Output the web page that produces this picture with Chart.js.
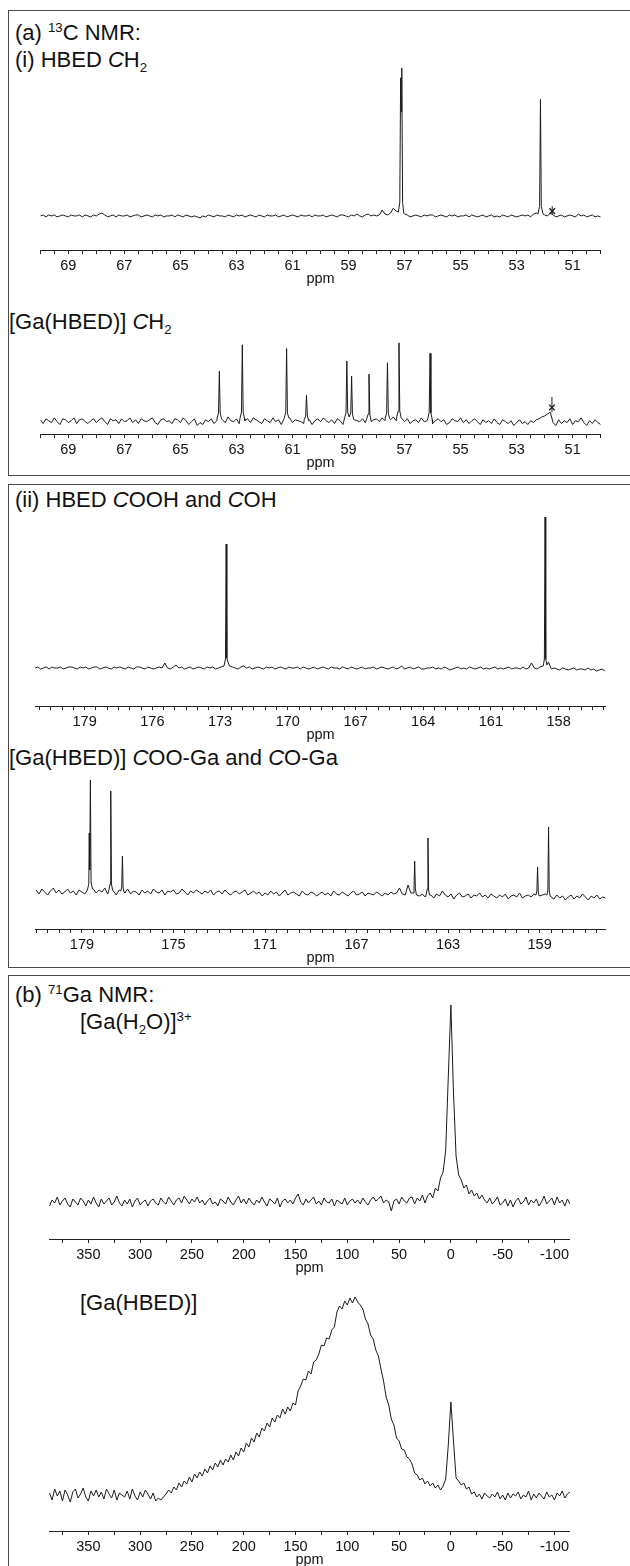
<!DOCTYPE html>
<html>
<head>
<meta charset="utf-8">
<title>13C and 71Ga NMR spectra</title>
<script src="https://cdn.jsdelivr.net/npm/chart.js@4.4.0/dist/chart.umd.min.js"></script>
<style>
  body { margin: 0; width: 630px; height: 1566px; background: #fff; position: relative; overflow: hidden;
         font-family: "Liberation Sans", Arial, Helvetica, sans-serif; color: #111; }
  .box { position: absolute; left: 8px; width: 640px; border: 1.5px solid #4a4a4a; box-sizing: border-box; }
  .lbl { position: absolute; font-size: 22px; line-height: 1; white-space: nowrap; }
  .lbl sup, .lbl sub { font-size: 0.6em; line-height: 0; }
  canvas { position: absolute; }
</style>
</head>
<body>
<div class="box" style="top:10px;height:466px"></div>
<div class="box" style="top:484px;height:484px"></div>
<div class="box" style="top:975px;height:640px"></div>

<div class="lbl" style="left:15px;top:22px">(a) <sup>13</sup>C NMR:</div>
<div class="lbl" style="left:15px;top:49px">(i) HBED <i>C</i>H<sub>2</sub></div>
<div class="lbl" style="left:9px;top:311px">[Ga(HBED)] <i>C</i>H<sub>2</sub></div>
<div class="lbl" style="left:15px;top:489px">(ii) HBED <i>C</i>OOH and <i>C</i>OH</div>
<div class="lbl" style="left:9px;top:747px">[Ga(HBED)] <i>C</i>OO-Ga and <i>C</i>O-Ga</div>
<div class="lbl" style="left:15px;top:984px">(b) <sup>71</sup>Ga NMR:</div>
<div class="lbl" style="left:80px;top:1011px">[Ga(H<sub>2</sub>O)]<sup>3+</sup></div>
<div class="lbl" style="left:80px;top:1292px">[Ga(HBED)]</div>

<canvas id="c1"></canvas>
<canvas id="c2"></canvas>
<canvas id="c3"></canvas>
<canvas id="c4"></canvas>
<canvas id="c5"></canvas>
<canvas id="c6"></canvas>

<script>
// ---- tick labels (ppm) ----
const ch2TickLabels = [69, 67, 65, 63, 61, 59, 57, 55, 53, 51];
const coTickLabelsTop = [179, 176, 173, 170, 167, 164, 161, 158];
const coTickLabelsBottom = [179, 175, 171, 167, 163, 159];
const gaTickLabels = [350, 300, 250, 200, 150, 100, 50, 0, -50, -100];

// axis ranges: [left ppm, right ppm, minor tick step]
const ch2Axis = [70, 50, 0.5];
const coAxisTop = [181.2, 155.9, 0.5];
const coAxisBottom = [181.05, 156.1, 0.5];
const gaAxis = [388, -115, 25];

// baseline sampling: [first ppm, step]
const ch2Grid = [70, 0.1];
const coGridTop = [181.2, 0.125];
const coGridBottom = [181, 0.125];
const gaGrid = [387.5, 2.5];

// (i) HBED CH2 - intensities (px above baseline)
const hbedCH2Noise = [
  0,1,-1,1,0,1,-1,0,1,0,-1,1,0,0,1,-1,1,0,-1,1,
  0,2,3,1,-1,0,1,-1,1,0,0,1,-1,0,1,1,-1,0,1,0,
  -1,1,0,1,-1,0,0,1,-1,1,0,-1,1,0,-1,0,-1,-2,0,-1,
  1,0,-1,1,0,0,-1,1,0,-1,1,0,1,-1,0,1,0,-1,1,0,
  -1,1,0,0,1,-1,0,1,-1,0,1,0,-1,1,0,0,1,-1,1,0,
  0,1,-1,0,1,0,-1,1,1,0,-1,1,0,2,0,-1,1,2,0,1,
  0,1,6,2,1,3,8,5,0,0,2,1,-1,0,1,0,-1,1,0,1,
  1,-1,0,1,0,-1,1,0,1,-1,0,0,1,-1,1,0,-1,0,1,-1,
  0,1,-1,0,-1,1,0,-1,1,0,-1,0,1,0,1,-1,2,3,0,0,
  1,0,3,1,-1,0,1,-1,0,1,0,-1,2,0,1,-1,0,1,-1,0,-1
];
const hbedCH2Peaks = [
  [[57.22,4],[57.17,14],[57.14,142],[57.12,107],[57.10,152],[57.07,14],[57.03,3]],
  [[52.24,2],[52.18,10],[52.15,120],[52.12,10],[52.06,2]]
];
const hbedCH2Artefact = [51.73, 5, 2, 10];

// [Ga(HBED)] CH2
const gaHbedCH2Noise = [
  1,-3,2,0,-2,3,-1,-4,2,1,-2,0,3,-3,1,2,-1,-3,0,2,
  -2,1,3,-1,-4,2,0,1,-3,2,-1,0,3,-2,1,-3,2,0,-1,1,
  3,-2,-4,1,2,-1,0,-3,2,1,-2,3,0,-4,-1,2,-5,-2,-4,1,
  -1,2,-3,0,3,1,-2,4,0,-1,2,-3,1,0,2,-2,3,1,-1,-3,
  2,0,-2,3,-1,1,-4,2,0,3,-2,1,0,-1,-3,-2,1,-4,0,2,
  -1,3,0,-2,1,-3,2,0,-4,1,-2,-3,1,0,-1,2,-2,0,-3,1,
  2,-1,3,0,-2,1,4,0,2,3,-1,2,-3,0,1,-2,3,-1,0,1,
  -3,0,2,-1,1,-4,-2,2,0,-1,3,-2,1,-3,0,2,-1,-4,1,-2,
  0,-3,2,-2,-4,1,-1,-3,0,-5,-2,1,-3,-1,-4,0,-2,1,2,4,
  5,7,9,-2,-5,1,-3,0,-2,2,-4,0,-1,3,-2,-5,0,-3,1,-2,-4
];
const gaHbedCH2Peaks = [
  [[63.69,3],[63.64,8],[63.61,52],[63.58,8],[63.53,2]],
  [[62.87,3],[62.82,9],[62.79,80],[62.76,9],[62.71,2]],
  [[61.29,2],[61.24,9],[61.21,76],[61.18,8],[61.13,3]],
  [[60.58,1],[60.53,5],[60.50,27],[60.47,5],[60.42,0]],
  [[59.14,3],[59.09,8],[59.06,63],[59.03,9],[58.98,4]],
  [[58.97,4],[58.92,8],[58.89,47],[58.86,7],[58.81,1]],
  [[58.35,2],[58.30,7],[58.27,49],[58.24,7],[58.19,-1]],
  [[57.69,3],[57.64,8],[57.61,61],[57.58,8],[57.53,2]],
  [[57.28,4],[57.23,10],[57.20,82],[57.17,10],[57.12,3]],
  [[56.17,2],[56.12,9],[56.09,71],[56.06,8],[56.01,1]]
];
const gaHbedCH2Artefact = [51.74, 14, 9, 25];

// (ii) HBED COOH and COH
const hbedCOOHNoise = [
  0,1,-1,0,1,-1,1,0,0,1,-1,0,1,1,0,-1,1,0,1,-1,
  0,1,1,-1,0,1,0,-1,1,0,1,0,-1,1,0,-1,1,1,0,-1,
  1,0,-1,0,1,0,5,0,-1,1,3,0,1,-1,0,1,-1,0,1,0,
  -1,1,0,1,-1,0,1,2,0,2,1,0,-1,1,2,0,1,-1,0,1,
  0,-1,1,0,1,-1,0,1,0,-1,1,0,0,1,-1,1,0,-1,0,1,
  -1,0,1,0,-1,1,0,0,-1,1,0,-1,1,0,-1,0,1,-1,0,0,
  1,-1,0,1,0,-1,0,1,-1,0,2,-1,0,1,-1,0,1,-1,-1,0,
  0,1,-1,0,-1,1,0,-2,-1,0,1,-1,0,-1,1,0,-1,0,1,-1,
  0,-1,0,1,-1,0,-1,0,1,-1,0,0,-1,1,-1,0,5,0,-1,1,
  2,0,6,-1,0,-1,-2,0,-1,-2,-1,0,-2,-1,-1,-2,0,-2,-1,-3,-2,-1,-3
];
const hbedCOOHPeaks = [
  [[172.80,2],[172.76,9],[172.73,124],[172.70,10],[172.65,6],[172.58,2]],
  [[158.68,2],[158.63,9],[158.60,151],[158.57,9],[158.52,3]]
];

// [Ga(HBED)] COO-Ga and CO-Ga
const gaHbedCOONoise = [
  2,-2,3,0,-3,1,4,-1,2,-2,0,3,-1,1,-3,2,0,-2,0,0,
  3,-1,2,0,4,-2,0,1,-3,2,0,-1,3,-2,1,0,-3,2,-1,1,
  -2,3,0,-1,2,-3,1,0,2,-2,-1,3,0,-3,1,-1,2,0,-2,1,
  -1,2,-3,0,1,-2,2,-1,-3,0,1,-2,0,2,-3,-1,1,-2,0,-4,
  -1,-3,1,-2,0,-4,-1,2,-3,-1,0,-2,-4,1,-2,-3,0,-1,-4,-2,
  0,-3,-1,-4,1,-2,-3,0,-2,-4,-1,1,-3,-2,0,-4,-1,-2,-3,0,
  -2,-4,-1,-3,0,-2,-1,4,-2,-3,7,-1,0,-3,-4,-2,-5,0,-3,-6,
  -2,-4,1,-3,-5,-2,-7,-3,-1,-5,-4,-2,-6,-3,-4,-1,-5,-3,-6,-2,
  -4,-6,-3,-5,-2,-7,-4,-3,-5,-1,-6,-4,-3,-5,-2,0,-4,-3,-2,0,
  -5,-7,-3,-6,-4,-8,-5,-3,-7,-4,-6,-2,-5,-8,-4,-6,-3,-7,-5,-6
];
const gaHbedCOOPeaks = [
  [[178.76,2],[178.70,8],[178.68,59],[178.66,22],[178.63,112],[178.60,10],[178.54,3]],
  [[177.82,2],[177.77,8],[177.74,101],[177.71,8],[177.66,2]],
  [[177.30,1],[177.26,5],[177.23,36],[177.20,4],[177.16,0]],
  [[164.53,-1],[164.49,3],[164.46,31],[164.43,3],[164.39,-2]],
  [[163.95,-2],[163.91,3],[163.88,54],[163.85,2],[163.81,-3]],
  [[159.16,-3],[159.12,1],[159.09,25],[159.06,0],[159.02,-4]],
  [[158.68,-3],[158.64,2],[158.61,65],[158.58,1],[158.54,-4]]
];

// (b) 71Ga [Ga(H2O)]3+  (387.5 -> -115 ppm)
const gaAquaTrace = [
  -4,2,-1,5,-3,1,4,-2,-5,3,0,-3,4,1,-4,2,-2,5,-1,-5,
  3,-2,1,4,-3,0,6,-1,-4,2,-2,3,-5,1,4,-3,0,2,-4,1,
  3,-1,-3,4,0,-2,5,1,-3,2,4,-1,6,2,-2,3,0,5,-1,2,
  -3,1,4,-2,0,-4,3,1,-2,5,0,-3,2,6,-1,3,-2,4,0,-3,
  2,-1,5,0,-4,3,1,-2,4,-5,1,3,-1,2,-2,4,8,0,-3,3,
  -1,2,5,-2,1,-3,4,0,-1,3,-4,2,0,-2,4,-3,1,3,-1,2,
  -2,4,0,-3,2,5,1,3,6,-1,2,0,-9,1,3,-2,5,1,-1,4,
  5,-2,4,1,7,-1,6,9,4,14,11,24,30,52,125,197,110,46,27,22,
  14,17,8,12,6,9,3,7,2,-1,4,-2,1,5,-3,-1,3,-4,2,-5,
  1,4,-2,0,5,-3,2,-1,3,-4,0,6,-2,1,4,-3,5,-1,2,-4,3,-2
];

// [Ga(HBED)]
const gaHbedTrace = [
  2,-5,6,-1,4,-6,5,0,-7,3,6,-3,1,7,-2,-6,4,-1,5,-2,
  3,-4,6,1,-3,5,-5,2,0,-2,4,-4,6,-1,-5,3,-2,5,1,-4,
  2,-6,-3,-5,-2,1,5,2,8,5,12,8,14,11,18,13,21,17,23,19,
  26,22,29,25,32,28,35,30,36,33,40,35,43,39,47,43,52,48,57,53,
  62,58,67,64,72,68,77,73,80,77,86,81,88,84,92,90,104,109,116,115,
  124,121,133,135,141,150,149,157,156,165,168,183,189,186,194,190,197,192,198,193,
  190,186,176,171,160,156,145,139,126,114,98,90,76,70,57,54,46,45,38,36,
  31,22,20,15,17,11,14,9,12,7,10,5,9,16,50,93,54,17,14,10,
  12,6,8,1,3,-2,1,-4,2,-1,-3,1,-2,3,-4,0,-5,2,-3,1,
  -1,3,-4,0,-2,4,-5,1,-3,2,-1,-4,3,-2,0,-5,2,-1,4,-3,1,3
];

// ---- page placement of each plot (px) ----
const AXIS_H = 38;
const places = {
  c1: { left: 35, width: 571, top: 55,   axisY: 250,  baseY: 215 },
  c2: { left: 35, width: 571, top: 330,  axisY: 434,  baseY: 420 },
  c3: { left: 35, width: 571, top: 510,  axisY: 706,  baseY: 668 },
  c4: { left: 35, width: 571, top: 772,  axisY: 929,  baseY: 892 },
  c5: { left: 49, width: 521, top: 995,  axisY: 1239, baseY: 1202 },
  c6: { left: 49, width: 521, top: 1290, axisY: 1531, baseY: 1495 }
};

Chart.defaults.font.family = '"Liberation Sans", Arial, Helvetica, sans-serif';
Chart.defaults.color = '#111';

// baseline samples + narrow peak outlines, merged in ppm order
function buildTrace(grid, values, peaks) {
  const [start, step] = grid;
  const pts = [];
  values.forEach((v, i) => {
    const x = +(start - i * step).toFixed(4);
    const inside = peaks.some(g => x <= g[0][0] && x >= g[g.length - 1][0]);
    if (!inside) pts.push({ x, y: v });
  });
  peaks.forEach(g => g.forEach(p => pts.push({ x: p[0], y: p[1] })));
  pts.sort((a, b) => b.x - a.x);
  return pts;
}

function minorTicks(lo, hi, step) {
  const out = [];
  for (let k = Math.ceil(lo / step - 1e-9); k * step <= hi + 1e-9; k++) {
    out.push({ value: Math.round(k * step * 1000) / 1000 });
  }
  return out;
}

function makeSpectrum(id, axis, labels, trace, artefact) {
  const place = places[id];
  const cv = document.getElementById(id);
  cv.width = place.width;
  cv.height = place.axisY - place.top + AXIS_H;
  cv.style.left = place.left + 'px';
  cv.style.top = place.top + 'px';
  const [hi, lo, minor] = axis;

  const datasets = [{
    data: trace, borderColor: '#1b1b1b', borderWidth: 1, pointRadius: 0, tension: 0
  }];
  if (artefact) {
    const [p, yc, y0, y1] = artefact;
    datasets.push({
      data: [{ x: p, y: yc }], showLine: false, pointStyle: 'crossRot', pointRadius: 4,
      pointBorderColor: '#1b1b1b', pointBorderWidth: 1.3, borderColor: '#1b1b1b'
    });
    datasets.push({
      data: [{ x: p, y: y0 }, { x: p, y: y1 }], borderColor: '#1b1b1b', borderWidth: 1, pointRadius: 0
    });
  }

  new Chart(cv, {
    type: 'line',
    data: { datasets },
    options: {
      responsive: false,
      animation: false,
      events: [],
      layout: { padding: 0 },
      plugins: { legend: { display: false }, tooltip: { enabled: false } },
      scales: {
        x: {
          type: 'linear', reverse: true, min: lo, max: hi,
          afterFit: s => { s.height = AXIS_H; },
          afterBuildTicks: s => { s.ticks = minorTicks(lo, hi, minor); },
          border: { display: true, color: '#222', width: 1 },
          grid: { drawOnChartArea: false, drawTicks: true, tickLength: 4, color: '#222', lineWidth: 1 },
          ticks: {
            autoSkip: false, maxRotation: 0, minRotation: 0, padding: 3, color: '#111',
            font: { size: 14.5 },
            callback: v => {
              const l = labels.find(t => Math.abs(t - v) < 1e-6);
              return l === undefined ? '' : String(l);
            }
          },
          title: { display: true, text: 'ppm', color: '#111', font: { size: 14.5 }, padding: { top: 0, bottom: 0 } }
        },
        y: { display: false, min: place.baseY - place.axisY, max: place.baseY - place.top }
      }
    }
  });
}

makeSpectrum('c1', ch2Axis, ch2TickLabels, buildTrace(ch2Grid, hbedCH2Noise, hbedCH2Peaks), hbedCH2Artefact);
makeSpectrum('c2', ch2Axis, ch2TickLabels, buildTrace(ch2Grid, gaHbedCH2Noise, gaHbedCH2Peaks), gaHbedCH2Artefact);
makeSpectrum('c3', coAxisTop, coTickLabelsTop, buildTrace(coGridTop, hbedCOOHNoise, hbedCOOHPeaks));
makeSpectrum('c4', coAxisBottom, coTickLabelsBottom, buildTrace(coGridBottom, gaHbedCOONoise, gaHbedCOOPeaks));
makeSpectrum('c5', gaAxis, gaTickLabels, buildTrace(gaGrid, gaAquaTrace, []));
makeSpectrum('c6', gaAxis, gaTickLabels, buildTrace(gaGrid, gaHbedTrace, []));
</script>
</body>
</html>
